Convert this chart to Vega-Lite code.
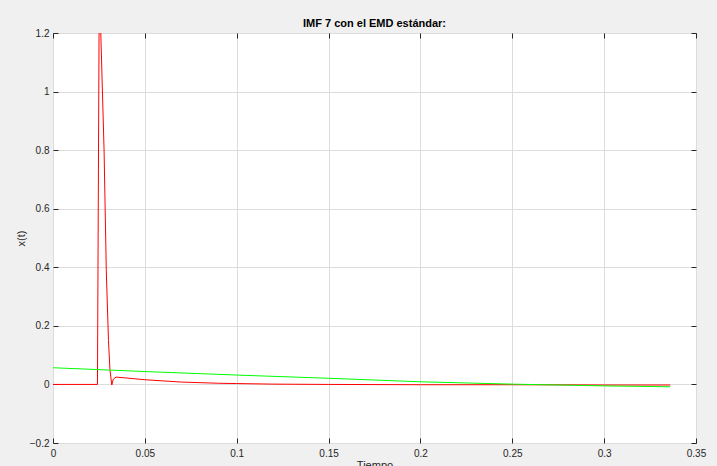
{
  "$schema": "https://vega.github.io/schema/vega-lite/v6.json",
  "width": 643,
  "height": 410,
  "autosize": {"type": "none"},
  "padding": {"left": 53, "top": 33, "right": 21, "bottom": 23},
  "background": "#f0f0f0",
  "title": {"text": "IMF 7 con el EMD estándar:", "font": "Liberation Sans", "fontSize": 11, "fontWeight": "bold", "color": "#000000", "offset": 4, "dy": 5, "anchor": "middle"},
  "config": {
    "view": {"fill": "white", "stroke": "#262626", "strokeWidth": 1},
    "axis": {"labelFont": "Liberation Sans", "labelFontSize": 10, "labelColor": "#262626", "labelFlush": false, "titleFont": "Liberation Sans", "titleFontSize": 11, "titleFontWeight": "normal", "titleColor": "#262626", "domainColor": "#262626", "tickColor": "#262626", "gridColor": "#dcdcdc", "gridOpacity": 1}
  },
  "data": {"values": [
    {"s": "red", "t": 0, "v": 0},
    {"s": "red", "t": 0.0242, "v": 0},
    {"s": "red", "t": 0.0252, "v": 1.38},
    {"s": "red", "t": 0.0278, "v": 0.8},
    {"s": "red", "t": 0.029, "v": 0.39},
    {"s": "red", "t": 0.0302, "v": 0.15},
    {"s": "red", "t": 0.031, "v": 0.05},
    {"s": "red", "t": 0.032, "v": -0.002},
    {"s": "red", "t": 0.0328, "v": 0.018},
    {"s": "red", "t": 0.0343, "v": 0.025},
    {"s": "red", "t": 0.04, "v": 0.022},
    {"s": "red", "t": 0.05, "v": 0.016},
    {"s": "red", "t": 0.06, "v": 0.012},
    {"s": "red", "t": 0.07, "v": 0.008},
    {"s": "red", "t": 0.08, "v": 0.006},
    {"s": "red", "t": 0.09, "v": 0.004},
    {"s": "red", "t": 0.1, "v": 0.003},
    {"s": "red", "t": 0.12, "v": 0.001},
    {"s": "red", "t": 0.15, "v": 0},
    {"s": "red", "t": 0.2, "v": -0.001},
    {"s": "red", "t": 0.25, "v": -0.001},
    {"s": "red", "t": 0.3, "v": -0.002},
    {"s": "red", "t": 0.336, "v": -0.002},
    {"s": "green", "t": 0, "v": 0.057},
    {"s": "green", "t": 0.05, "v": 0.044},
    {"s": "green", "t": 0.1, "v": 0.032},
    {"s": "green", "t": 0.15, "v": 0.021},
    {"s": "green", "t": 0.2, "v": 0.009},
    {"s": "green", "t": 0.25, "v": 0.001},
    {"s": "green", "t": 0.3, "v": -0.005},
    {"s": "green", "t": 0.336, "v": -0.008}
  ]},
  "layer": [
    {
      "mark": {"type": "line", "strokeWidth": 1, "clip": true},
      "encoding": {
        "x": {"field": "t", "type": "quantitative", "scale": {"domain": [0, 0.35], "nice": false, "zero": false},
              "axis": {"values": [0, 0.05, 0.1, 0.15, 0.2, 0.25, 0.3, 0.35], "format": "~g", "title": "Tiempo", "ticks": false, "tickSize": 0, "labelPadding": 5, "titlePadding": 1, "domain": false}},
        "y": {"field": "v", "type": "quantitative", "scale": {"domain": [-0.2, 1.2], "nice": false, "zero": false},
              "axis": {"values": [-0.2, 0, 0.2, 0.4, 0.6, 0.8, 1, 1.2], "format": "~g", "title": "x(t)", "ticks": false, "tickSize": 0, "labelPadding": 4, "titlePadding": 3, "domain": false}},
        "color": {"field": "s", "type": "nominal", "scale": {"domain": ["red", "green"], "range": ["#ff0000", "#00ff00"]}, "legend": null}
      }
    },
    {
      "mark": {"type": "point", "opacity": 0, "clip": true},
      "encoding": {
        "x": {"field": "t", "type": "quantitative", "axis": {"orient": "bottom", "offset": -5, "values": [0, 0.05, 0.1, 0.15, 0.2, 0.25, 0.3, 0.35], "labels": false, "title": null, "tickSize": 5, "grid": false, "domain": false}},
        "y": {"field": "v", "type": "quantitative", "axis": {"orient": "left", "offset": -5, "values": [-0.2, 0, 0.2, 0.4, 0.6, 0.8, 1, 1.2], "labels": false, "title": null, "tickSize": 5, "grid": false, "domain": false}}
      }
    },
    {
      "mark": {"type": "point", "opacity": 0, "clip": true},
      "encoding": {
        "x": {"field": "t", "type": "quantitative", "axis": {"orient": "top", "offset": -5, "values": [0, 0.05, 0.1, 0.15, 0.2, 0.25, 0.3, 0.35], "labels": false, "title": null, "tickSize": 5, "grid": false, "domain": false}},
        "y": {"field": "v", "type": "quantitative", "axis": {"orient": "right", "offset": -5, "values": [-0.2, 0, 0.2, 0.4, 0.6, 0.8, 1, 1.2], "labels": false, "title": null, "tickSize": 5, "grid": false, "domain": false}}
      }
    }
  ],
  "resolve": {"axis": {"x": "independent", "y": "independent"}}
}
